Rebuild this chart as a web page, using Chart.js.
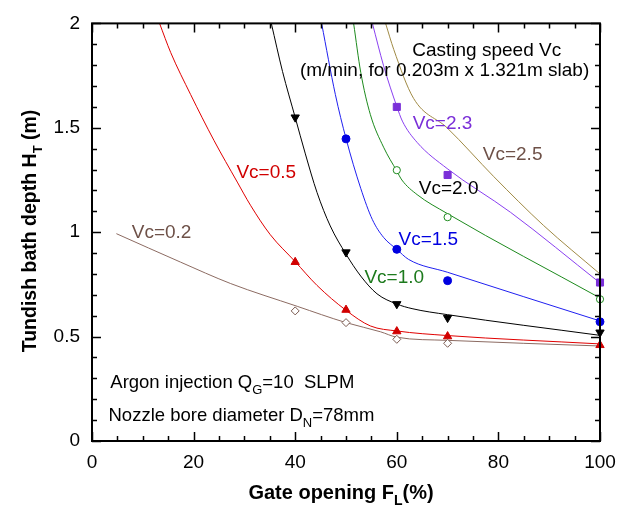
<!DOCTYPE html>
<html>
<head>
<meta charset="utf-8">
<script src="https://cdn.jsdelivr.net/npm/chart.js@4"></script>
<style>
  html, body { margin: 0; padding: 0; background: #fff; }
  #wrap { width: 631px; height: 512px; }
</style>
</head>
<body>
<div id="wrap"><canvas id="myChart" width="631" height="512"></canvas></div>
<script>
// smooth fitted curves
const vc02CurveX = [4.8, 17.4, 27.3, 40.4, 50, 56.8, 60, 70, 100]
const vc02CurveY = [0.993, 0.857, 0.754, 0.645, 0.567, 0.523, 0.497, 0.482, 0.455]
const vc05CurveX = [13.3, 15.5, 19.4, 24, 28.6, 31.2, 35.1, 40, 44.3, 50, 54.8, 60, 70, 100]
const vc05CurveY = [2, 1.86, 1.66, 1.44, 1.24, 1.129, 0.988, 0.859, 0.745, 0.626, 0.551, 0.527, 0.505, 0.465]
const vc10CurveX = [35.3, 37.5, 40, 42, 44.3, 46.9, 50, 52.9, 56.1, 60, 63, 70, 100]
const vc10CurveY = [2, 1.77, 1.55, 1.375, 1.19, 1.03, 0.895, 0.79, 0.705, 0.656, 0.634, 0.605, 0.506]
const vc15CurveX = [45.2, 47.9, 50, 52.9, 55.2, 57.4, 60, 62.3, 70, 100]
const vc15CurveY = [2, 1.66, 1.449, 1.21, 1.06, 0.975, 0.918, 0.87, 0.808, 0.575]
const vc20CurveX = [51.5, 52.9, 54.8, 57.4, 60, 61, 64, 69.9, 100]
const vc20CurveY = [2, 1.766, 1.563, 1.407, 1.293, 1.25, 1.18, 1.09, 0.685]
const vc23CurveX = [55.2, 57.4, 60, 61.1, 64, 69.9, 82.4, 100]
const vc23CurveY = [2, 1.797, 1.602, 1.532, 1.43, 1.305, 1.095, 0.757]
const vc25CurveX = [57.8, 59.4, 63.3, 69.9, 79.1, 88.9, 100]
const vc25CurveY = [2, 1.875, 1.641, 1.50, 1.266, 1.032, 0.80]

// measured points
const vc02PtsX = [40, 50, 60, 70]
const vc02PtsY = [0.623, 0.567, 0.487, 0.468]
const vc05PtsX = [40, 50, 60, 70, 100]
const vc05PtsY = [0.857, 0.628, 0.525, 0.501, 0.459]
const vc10PtsX = [40, 50, 60, 70, 100]
const vc10PtsY = [1.55, 0.904, 0.656, 0.59, 0.52]
const vc15PtsX = [50, 60, 70, 100]
const vc15PtsY = [1.447, 0.918, 0.768, 0.571]
const vc20PtsX = [60, 70, 100]
const vc20PtsY = [1.297, 1.072, 0.679]
const vc23PtsX = [60, 70, 100]
const vc23PtsY = [1.60, 1.274, 0.759]

const xTicks = [0, 20, 40, 60, 80, 100]
const yTicks = [0, 0.5, 1, 1.5, 2]

// text placed in the plot, in data units
const notes = [
    { text: [['Vc=0.2']], x: 13.7, y: 0.998, color: '#6e5148', align: 'center', size: 19 },
    { text: [['Vc=0.5']], x: 34.3, y: 1.283, color: '#d10000', align: 'center', size: 19 },
    { text: [['Vc=1.0']], x: 59.5, y: 0.782, color: '#1d7a1d', align: 'center', size: 19 },
    { text: [['Vc=1.5']], x: 66.2, y: 0.965, color: '#0000e0', align: 'center', size: 19 },
    { text: [['Vc=2.0']], x: 70.2, y: 1.208, color: '#000', align: 'center', size: 19 },
    { text: [['Vc=2.3']], x: 69.0, y: 1.518, color: '#7a2fd8', align: 'center', size: 19 },
    { text: [['Vc=2.5']], x: 82.8, y: 1.372, color: '#6e5148', align: 'center', size: 19 },
    { text: [['Casting speed Vc']], x: 77.7, y: 1.869, color: '#000', align: 'center', size: 19 },
    { text: [['(m/min, for 0.203m x 1.321m slab)']], x: 69.4, y: 1.775, color: '#000', align: 'center', size: 19 },
    { text: [['Argon injection Q'], ['G', 'sub'], ['=10  SLPM']], x: 3.6, y: 0.278, color: '#000', align: 'left', size: 18.5 },
    { text: [['Nozzle bore diameter D'], ['N', 'sub'], ['=78mm']], x: 3.25, y: 0.122, color: '#000', align: 'left', size: 18.5 }
]

function pts(xs, ys) {
    return xs.map((x, i) => ({ x: x, y: ys[i] }))
}

function curve(label, xs, ys, color) {
    return {
        label: label,
        data: pts(xs, ys),
        showLine: true,
        borderColor: color,
        borderWidth: 1,
        pointRadius: 0,
        cubicInterpolationMode: 'monotone',
        order: 2
    }
}

function marks(label, xs, ys, color, style, radius, filled, rotation) {
    return {
        label: label,
        data: pts(xs, ys),
        showLine: false,
        pointStyle: style,
        pointRadius: radius,
        pointRotation: rotation || 0,
        pointBorderColor: color,
        pointBackgroundColor: filled ? color : '#fff',
        pointBorderWidth: 1,
        clip: false,
        order: 1
    }
}

const FONT = '"Liberation Sans", Arial, Helvetica, sans-serif'

function drawParts(ctx, parts, x, y, align, size, bold) {
    const w = bold ? 'bold ' : ''
    const subSize = Math.round(size * 0.68)
    let total = 0
    for (const p of parts) {
        ctx.font = w + (p[1] === 'sub' ? subSize : size) + 'px ' + FONT
        total += ctx.measureText(p[0]).width
    }
    let cx = align === 'center' ? x - total / 2 : x
    ctx.textAlign = 'left'
    ctx.textBaseline = 'middle'
    for (const p of parts) {
        const sub = p[1] === 'sub'
        ctx.font = w + (sub ? subSize : size) + 'px ' + FONT
        ctx.fillText(p[0], cx, sub ? y + size * 0.4 : y)
        cx += ctx.measureText(p[0]).width
    }
}

const framePlugin = {
    id: 'frame',
    afterDatasetsDraw(chart) {
        const ctx = chart.ctx
        const a = chart.chartArea
        const xs = chart.scales.x
        const ys = chart.scales.y
        ctx.save()
        ctx.strokeStyle = '#000'
        ctx.lineWidth = 2
        ctx.strokeRect(a.left, a.top, a.right - a.left, a.bottom - a.top)
        ctx.lineWidth = 1.5
        ctx.beginPath()
        for (let v = 0; v <= 100; v += 5) {
            const px = Math.round(xs.getPixelForValue(v)) + 0.5
            const len = v % 20 === 0 ? 9 : 5
            ctx.moveTo(px, a.bottom); ctx.lineTo(px, a.bottom - len)
            ctx.moveTo(px, a.top); ctx.lineTo(px, a.top + len)
        }
        for (let i = 0; i <= 20; i++) {
            const py = Math.round(ys.getPixelForValue(i / 10)) + 0.5
            const len = i % 5 === 0 ? 9 : 5
            ctx.moveTo(a.left, py); ctx.lineTo(a.left + len, py)
            ctx.moveTo(a.right, py); ctx.lineTo(a.right - len, py)
        }
        ctx.stroke()

        for (const n of notes) {
            ctx.fillStyle = n.color
            drawParts(ctx, n.text, xs.getPixelForValue(n.x), ys.getPixelForValue(n.y), n.align, n.size, false)
        }

        // axis titles
        ctx.fillStyle = '#000'
        drawParts(ctx, [['Gate opening F'], ['L', 'sub'], ['(%)']], 341, 493, 'center', 20, true)
        ctx.translate(31, 231)
        ctx.rotate(-Math.PI / 2)
        drawParts(ctx, [['Tundish bath depth H'], ['T', 'sub'], [' (m)']], 0, 0, 'center', 19.5, true)
        ctx.restore()
    }
}

const ctx = document.getElementById('myChart')
new Chart(ctx, {
    type: 'scatter',
    data: {
        datasets: [
            marks('Vc=0.2 pts', vc02PtsX, vc02PtsY, '#7a5a50', 'rectRot', 4, false),
            marks('Vc=0.5 pts', vc05PtsX, vc05PtsY, '#d10000', 'triangle', 4.8, true),
            marks('Vc=1.0 pts', vc10PtsX, vc10PtsY, '#000', 'triangle', 4.8, true, 180),
            marks('Vc=1.5 pts', vc15PtsX, vc15PtsY, '#0000e0', 'circle', 4, true),
            marks('Vc=2.0 pts', vc20PtsX, vc20PtsY, '#1d8a1d', 'circle', 3.6, false),
            marks('Vc=2.3 pts', vc23PtsX, vc23PtsY, '#7a2fd8', 'rect', 5, true),
            curve('Vc=0.2', vc02CurveX, vc02CurveY, '#8c6b62'),
            curve('Vc=0.5', vc05CurveX, vc05CurveY, '#e00000'),
            curve('Vc=1.0', vc10CurveX, vc10CurveY, '#000'),
            curve('Vc=1.5', vc15CurveX, vc15CurveY, '#2020f0'),
            curve('Vc=2.0', vc20CurveX, vc20CurveY, '#1d8a1d'),
            curve('Vc=2.3', vc23CurveX, vc23CurveY, '#8a40f0'),
            curve('Vc=2.5', vc25CurveX, vc25CurveY, '#a08a45')
        ]
    },
    plugins: [framePlugin],
    options: {
        responsive: false,
        animation: false,
        layout: { padding: { left: 0, top: 14, right: 31, bottom: 0 } },
        plugins: { legend: { display: false }, tooltip: { enabled: false } },
        scales: {
            x: {
                type: 'linear', min: 0, max: 100,
                afterBuildTicks: s => { s.ticks = xTicks.map(v => ({ value: v })) },
                afterFit: s => { s.height = 71 },
                grid: { display: false, drawTicks: false },
                border: { display: false },
                ticks: { color: '#000', padding: 10, maxRotation: 0, font: { size: 19, family: FONT }, callback: v => String(v) }
            },
            y: {
                type: 'linear', min: 0, max: 2,
                afterBuildTicks: s => { s.ticks = yTicks.map(v => ({ value: v })) },
                afterFit: s => { s.width = 92 },
                grid: { display: false, drawTicks: false },
                border: { display: false },
                ticks: { color: '#000', padding: 12, font: { size: 19, family: FONT }, callback: v => String(v) }
            }
        }
    }
})
</script>
</body>
</html>
